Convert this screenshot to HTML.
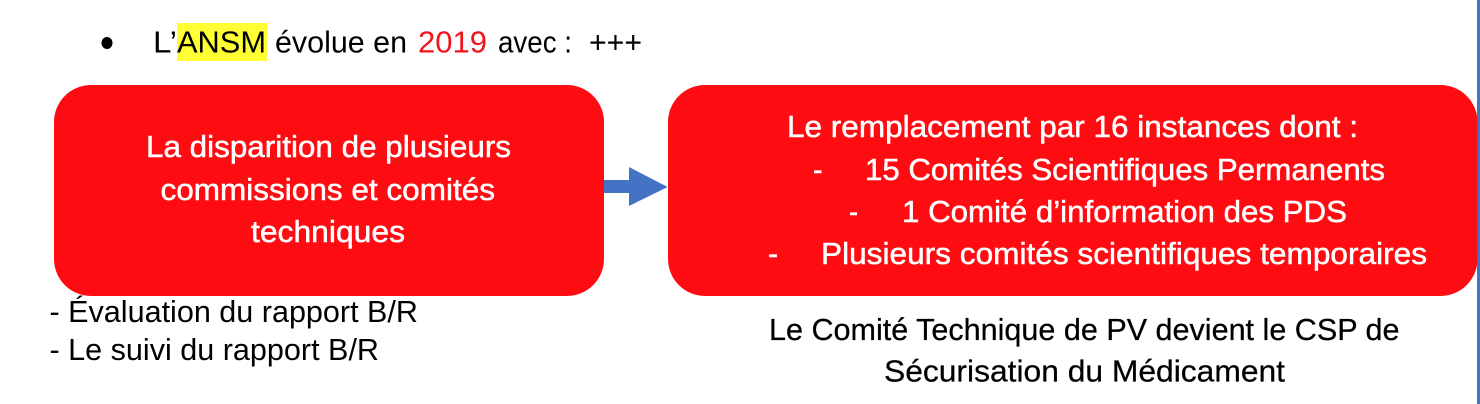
<!DOCTYPE html>
<html lang="fr">
<head>
<meta charset="utf-8">
<style>
html,body{margin:0;padding:0;background:#fff;width:1480px;height:404px;overflow:hidden}
svg{display:block}
text{font-family:"Liberation Sans",sans-serif;font-size:31px}
.w{fill:#fff;stroke:#fff;stroke-width:.5}
.k{fill:#000}
.b{fill:#000;stroke:#000;stroke-width:.25}
.r{fill:#f0141c}
</style>
</head>
<body>
<svg width="1480" height="404" viewBox="0 0 1480 404" xmlns="http://www.w3.org/2000/svg">
<rect width="1480" height="404" fill="#fff"/>
<rect x="1477" y="0" width="3" height="404" fill="#4472c4"/>
<rect x="177" y="23" width="90" height="38" fill="#ffff33"/>
<ellipse cx="107" cy="43" rx="5.5" ry="6" fill="#000"/>
<text class="k" x="153" y="52.500" textLength="24" lengthAdjust="spacingAndGlyphs">L’</text>
<text class="k" x="177" y="52.500" textLength="89" lengthAdjust="spacingAndGlyphs">ANSM</text>
<text class="k" x="275" y="52.500" textLength="132" lengthAdjust="spacingAndGlyphs">évolue en</text>
<text class="r" x="418" y="52.500" textLength="69" lengthAdjust="spacingAndGlyphs">2019</text>
<text class="k" x="498" y="52.500" textLength="74" lengthAdjust="spacingAndGlyphs">avec :</text>
<text class="k" x="589" y="52.500" textLength="53" lengthAdjust="spacingAndGlyphs">+++</text>

<rect x="54" y="85" width="550" height="211" rx="37" ry="37" fill="#fe0c12"/>
<rect x="668" y="85" width="809.5" height="211" rx="37" ry="37" fill="#fe0c12"/>
<path d="M604 180H629V167L667.7 187L629 206V193H604Z" fill="#4472c4"/>

<text class="w" x="146" y="157" textLength="365" lengthAdjust="spacingAndGlyphs">La disparition de plusieurs</text>
<text class="w" x="160.500" y="200" textLength="334.500" lengthAdjust="spacingAndGlyphs">commissions et comités</text>
<text class="w" x="251" y="242" textLength="154" lengthAdjust="spacingAndGlyphs">techniques</text>

<text class="w" x="787" y="137" textLength="571" lengthAdjust="spacingAndGlyphs">Le remplacement par 16 instances dont :</text>
<text class="w" x="813" y="180" textLength="9.500" lengthAdjust="spacingAndGlyphs">-</text>
<text class="w" x="865" y="180" textLength="520" lengthAdjust="spacingAndGlyphs">15 Comités Scientifiques Permanents</text>
<text class="w" x="849" y="222" textLength="9" lengthAdjust="spacingAndGlyphs">-</text>
<text class="w" x="902" y="222" textLength="445" lengthAdjust="spacingAndGlyphs">1 Comité d’information des PDS</text>
<text class="w" x="768" y="264" textLength="10" lengthAdjust="spacingAndGlyphs">-</text>
<text class="w" x="821" y="264" textLength="606" lengthAdjust="spacingAndGlyphs">Plusieurs comités scientifiques temporaires</text>

<text class="k" x="49.500" y="322" textLength="368.500" lengthAdjust="spacingAndGlyphs">- Évaluation du rapport B/R</text>
<text class="k" x="49.500" y="360" textLength="329.500" lengthAdjust="spacingAndGlyphs">- Le suivi du rapport B/R</text>

<text class="b" x="769" y="340" textLength="630.500" lengthAdjust="spacingAndGlyphs">Le Comité Technique de PV devient le CSP de</text>
<text class="b" x="884" y="381.500" textLength="401" lengthAdjust="spacingAndGlyphs">Sécurisation du Médicament</text>
</svg>
</body>
</html>
